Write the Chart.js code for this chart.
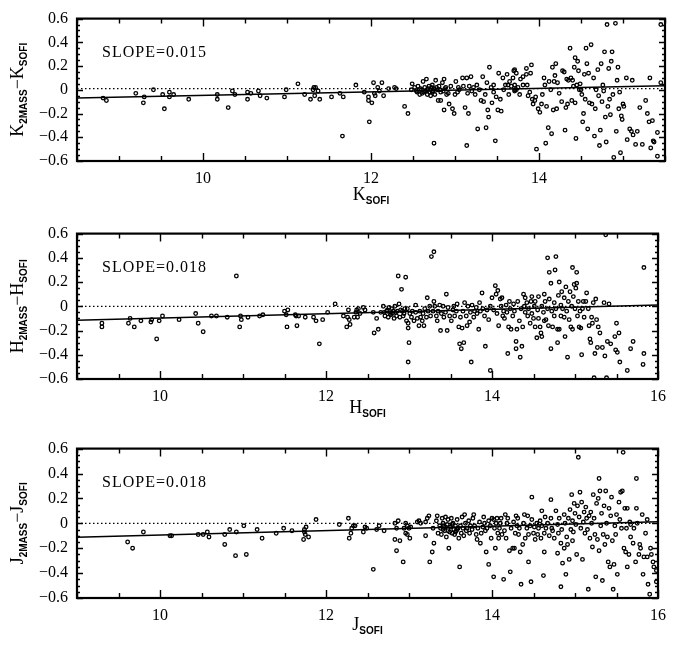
<!DOCTYPE html>
<html>
<head>
<meta charset="utf-8">
<script src="https://cdn.jsdelivr.net/npm/chart.js@4.4.1/dist/chart.umd.min.js"></script>
<style>
  body { margin: 0; background: #fff; }
  canvas { display: block; }
</style>
</head>
<body>
<canvas id="kChart" width="674" height="215"></canvas>
<canvas id="hChart" width="674" height="215"></canvas>
<canvas id="jChart" width="674" height="216"></canvas>
<script>
// ---- data ----
var bands = ["K", "H", "J"];
var slopes = [0.015, 0.018, 0.018];
var xRanges = [[8.5, 15.5], [9, 16], [9, 16]];
var xTicksK = [10, 12, 14];
var xTicksHJ = [10, 12, 14, 16];
var yTicks = [-0.6, -0.4, -0.2, 0, 0.2, 0.4, 0.6];

// fitted lines (two ends each)
var fitXK = [8.5, 15.5];
var fitYK = [-0.07, 0.035];
var fitXH = [9, 16];
var fitYH = [-0.115, 0.011];
var fitXJ = [9, 16];
var fitYJ = [-0.113, 0.013];

// dotted reference line
var zeroLevels = [0.01, 0, 0];

// K_SOFI vs K_2MASS - K_SOFI
var kPoints = [
  [8.81,-0.07],[8.85,-0.09],[9.20,-0.03],[9.29,-0.11],[9.30,-0.06],[9.41,0.00],[9.52,-0.04],[9.54,-0.16],
  [9.60,-0.02],[9.60,-0.06],[9.65,-0.04],[9.83,-0.08],[10.17,-0.04],[10.17,-0.08],[10.30,-0.15],[10.35,-0.01],
  [10.38,-0.04],[10.53,-0.02],[10.53,-0.08],[10.57,-0.03],[10.66,-0.01],[10.68,-0.05],[10.76,-0.07],[10.97,-0.06],
  [10.99,0.00],[11.13,0.05],[11.21,-0.04],[11.28,-0.08],[11.31,0.00],[11.32,0.02],[11.33,-0.05],[11.34,0.02],
  [11.37,-0.01],[11.39,-0.08],[11.53,-0.06],[11.63,-0.03],[11.67,-0.06],[11.66,-0.39],[11.82,0.04],
  [11.92,-0.02],[11.98,-0.27],[11.97,-0.06],[11.97,-0.09],[12.01,-0.11],[12.03,0.06],[12.04,-0.03],[12.05,-0.05],
  [12.08,0.02],[12.10,-0.01],[12.13,0.06],[12.15,-0.05],[12.21,0.01],[12.28,0.02],[12.30,0.01],[12.40,-0.14],
  [12.44,-0.20],[12.48,0.00],[12.49,0.05],[12.54,-0.01],[12.56,0.03],[12.58,-0.04],[12.60,0.00],[12.62,0.07],
  [12.63,-0.02],[12.64,0.02],[12.66,0.09],[12.67,0.00],[12.67,-0.04],[12.69,0.03],[12.71,0.00],[12.71,-0.05],
  [12.73,-0.02],[12.73,0.04],[12.75,0.01],[12.75,-0.45],[12.76,-0.04],[12.77,0.08],[12.79,0.00],[12.80,-0.09],
  [12.81,0.03],[12.83,-0.09],[12.83,-0.02],[12.85,0.06],[12.87,-0.17],[12.87,0.09],[12.88,0.01],[12.90,-0.04],
  [12.92,-0.03],[12.93,-0.12],[12.95,0.03],[12.97,-0.16],[12.99,-0.20],[13.00,-0.04],[13.01,0.07],[13.03,-0.02],
  [13.04,0.02],[13.05,0.00],[13.09,0.10],[13.10,0.03],[13.12,-0.15],[13.14,-0.47],[13.14,0.10],[13.15,-0.03],
  [13.16,-0.20],[13.17,0.03],[13.19,0.11],[13.20,-0.01],[13.22,0.02],[13.24,-0.04],[13.26,0.04],[13.27,-0.33],
  [13.29,0.00],[13.31,-0.09],[13.33,0.11],[13.34,-0.10],[13.36,-0.04],[13.37,-0.32],[13.38,0.06],[13.39,-0.17],
  [13.40,-0.23],[13.41,0.19],[13.43,0.02],[13.44,-0.11],[13.46,-0.02],[13.46,0.04],[13.48,-0.43],[13.49,-0.06],
  [13.51,-0.17],[13.52,0.14],[13.54,-0.08],[13.55,-0.18],[13.57,0.10],[13.58,0.00],[13.60,0.04],[13.62,0.13],
  [13.63,0.04],[13.64,-0.04],[13.65,0.07],[13.67,0.03],[13.69,0.10],[13.70,0.16],[13.71,0.00],
  [12.52,0.02],[12.55,-0.02],[12.59,0.01],[12.61,-0.03],[12.65,-0.01],[12.68,0.01],[12.70,-0.02],[12.72,0.02],
  [12.74,-0.01],[12.78,0.02],[12.82,0.00],[12.86,-0.01],[12.89,0.02],
  [13.71,0.17],[13.73,0.14],[13.71,0.04],[13.71,-0.01],[13.73,0.00],[13.75,0.02],[13.77,-0.04],[13.78,0.09],
  [13.81,0.04],[13.81,0.11],[13.85,0.18],[13.85,0.13],[13.86,0.04],[13.87,-0.05],[13.89,-0.02],[13.90,0.14],
  [13.91,0.21],[13.92,-0.08],[13.93,-0.12],[13.95,-0.09],[13.96,-0.06],[13.97,-0.50],[13.99,-0.16],[14.01,-0.19],
  [14.03,-0.12],[14.04,-0.04],[14.06,0.10],[14.07,0.04],[14.08,-0.45],[14.09,-0.14],[14.11,-0.32],[14.12,0.07],
  [14.14,0.00],[14.15,-0.37],[14.16,0.19],[14.17,-0.17],[14.18,0.07],[14.19,0.12],[14.20,0.22],[14.21,-0.16],
  [14.22,0.06],[14.24,-0.03],[14.27,-0.10],[14.28,0.16],[14.30,0.15],[14.31,-0.34],[14.32,-0.15],[14.33,0.09],
  [14.34,-0.12],[14.35,0.08],[14.37,0.35],[14.38,0.10],[14.39,-0.09],[14.40,0.08],[14.41,0.03],[14.42,0.19],
  [14.43,0.27],[14.43,-0.11],[14.44,-0.41],[14.45,0.04],[14.46,0.24],[14.47,0.16],[14.48,0.00],[14.49,0.05],
  [14.50,0.00],[14.51,-0.04],[14.52,-0.27],[14.53,-0.20],[14.54,0.13],[14.55,-0.08],[14.56,0.35],[14.57,0.22],
  [14.58,-0.33],[14.59,0.14],[14.60,-0.11],[14.62,0.38],[14.63,-0.12],[14.65,0.10],[14.66,-0.39],[14.67,-0.16],
  [14.68,0.00],[14.70,0.17],[14.71,-0.05],[14.72,-0.47],[14.73,-0.34],[14.74,0.22],[14.75,-0.10],[14.76,0.04],
  [14.77,-0.01],[14.78,0.32],[14.79,-0.23],[14.80,-0.44],[14.81,0.55],[14.82,-0.14],[14.83,0.18],[14.84,-0.08],
  [14.85,-0.21],[14.86,0.24],[14.87,0.32],[14.88,-0.04],[14.89,-0.57],[14.91,0.56],[14.92,-0.35],[14.93,0.08],
  [14.94,0.19],[14.95,-0.16],[14.96,-0.02],[14.97,-0.53],[14.98,-0.22],[14.99,-0.25],[15.00,-0.12],[15.01,-0.14],
  [15.04,0.10],[15.05,-0.42],[15.08,-0.33],[15.10,-0.35],[15.11,0.08],[15.12,-0.38],[15.15,-0.46],[15.17,-0.35],
  [15.20,-0.15],[15.23,-0.46],[15.27,-0.09],[15.29,-0.20],[15.31,-0.27],[15.32,0.10],[15.33,-0.49],[15.35,-0.26],
  [15.36,-0.43],[15.37,-0.44],[15.41,-0.36],[15.41,-0.56],[15.45,0.55],[15.45,0.06]
];

// H_SOFI vs H_2MASS - H_SOFI
var hPoints = [
  [9.30,-0.14],[9.30,-0.17],[9.62,-0.14],[9.64,-0.10],[9.69,-0.17],[9.77,-0.12],[9.89,-0.13],[9.90,-0.11],
  [9.96,-0.27],[9.99,-0.12],[10.03,-0.08],[10.23,-0.11],[10.43,-0.06],[10.46,-0.14],[10.52,-0.21],[10.62,-0.08],
  [10.68,-0.08],[10.81,-0.09],[10.92,0.25],[10.96,-0.17],[10.97,-0.08],[10.98,-0.11],[11.06,-0.09],[11.20,-0.08],
  [11.24,-0.07],[11.50,-0.04],[11.52,-0.07],[11.53,-0.17],[11.54,-0.03],[11.63,-0.07],[11.64,-0.08],[11.65,-0.16],
  [11.67,-0.08],[11.75,-0.09],[11.85,-0.09],[11.88,-0.12],[11.92,-0.31],[11.96,-0.11],[12.02,-0.05],[12.11,0.02],
  [12.21,-0.08],[12.26,-0.09],[12.27,-0.03],[12.25,-0.17],[12.28,-0.11],[12.29,-0.15],[12.34,-0.09],[12.36,-0.05],
  [12.37,-0.03],[12.38,-0.09],[12.39,-0.02],[12.41,-0.06],[12.45,-0.01],[12.47,-0.03],[12.57,-0.05],[12.58,-0.22],
  [12.61,-0.10],[12.63,-0.19],[12.66,-0.05],[12.69,0.00],[12.71,-0.08],[12.73,-0.04],[12.75,-0.09],[12.76,-0.01],
  [12.77,-0.06],[12.79,-0.02],[12.80,-0.06],[12.81,-0.04],[12.82,-0.10],[12.83,0.00],[12.85,-0.08],[12.86,-0.04],
  [12.87,0.25],[12.88,0.02],[12.89,-0.09],[12.91,0.14],[12.92,-0.04],[12.93,-0.08],[12.95,-0.02],[12.96,0.24],
  [12.97,-0.12],[12.98,-0.02],[12.99,-0.14],[12.99,-0.18],[13.00,-0.30],[12.99,-0.46],[13.01,-0.06],[13.03,-0.09],
  [13.04,-0.04],[13.06,-0.12],[13.08,-0.05],[13.08,0.01],[13.10,-0.10],[13.12,-0.16],[13.13,-0.04],[13.14,-0.09],
  [13.16,-0.12],[13.17,-0.06],[13.18,-0.16],[13.19,-0.02],[13.21,-0.09],[13.22,0.07],[13.23,-0.04],[13.25,0.00],
  [13.26,-0.08],[13.27,0.41],[13.29,-0.04],[13.30,0.45],[13.30,0.04],[13.31,0.00],[13.33,-0.08],[13.34,-0.12],
  [13.35,-0.04],[13.37,0.01],[13.38,-0.20],[13.39,-0.06],[13.41,0.00],[13.42,-0.09],[13.44,-0.05],[13.45,0.10],
  [13.46,-0.20],[13.47,-0.01],[13.49,-0.08],[13.51,-0.12],[13.53,-0.03],[13.54,0.00],[13.55,-0.08],[13.57,-0.04],
  [13.58,0.02],[13.60,-0.17],[13.61,-0.31],[13.62,-0.09],[13.63,-0.35],[13.64,-0.18],[13.65,-0.04],[13.66,-0.30],
  [13.67,0.03],[13.69,-0.08],[13.70,-0.16],[13.71,0.00],[13.73,-0.13],[13.74,-0.05],[13.75,-0.46],[13.76,0.01],
  [13.78,-0.09],[13.79,-0.04],[13.81,-0.01],[13.82,-0.06],[13.84,-0.19],[13.85,0.03],[13.86,-0.04],[13.88,0.11],
  [13.89,-0.02],[13.91,-0.08],[13.92,-0.33],[13.94,-0.03],[13.96,-0.11],[13.98,-0.53],[13.98,0.00],[14.00,0.07],
  [12.70,-0.05],[12.74,-0.03],[12.78,-0.07],[12.84,-0.05],[12.90,-0.03],[12.94,-0.06],
  [14.02,-0.03],[14.04,0.17],[14.05,0.10],[14.06,-0.06],[14.07,0.13],[14.08,-0.16],[14.10,0.06],[14.11,0.00],
  [14.12,0.07],[14.13,-0.08],[14.14,-0.04],[14.15,-0.10],[14.17,0.01],[14.18,-0.05],[14.19,-0.39],[14.20,-0.17],
  [14.21,0.04],[14.22,-0.02],[14.23,-0.19],[14.25,-0.08],[14.26,0.02],[14.27,-0.04],[14.29,-0.29],[14.29,-0.35],
  [14.30,-0.19],[14.31,0.04],[14.33,-0.12],[14.34,-0.42],[14.35,-0.02],[14.36,-0.33],[14.37,-0.17],[14.38,0.10],
  [14.39,0.00],[14.40,-0.05],[14.40,0.07],[14.42,0.03],[14.43,-0.08],[14.44,-0.02],[14.46,-0.14],[14.47,0.04],
  [14.48,-0.06],[14.48,0.08],[14.50,-0.10],[14.51,0.00],[14.52,-0.17],[14.52,0.04],[14.54,-0.26],[14.55,-0.03],
  [14.56,0.08],[14.56,-0.10],[14.58,-0.17],[14.59,-0.22],[14.60,-0.25],[14.60,0.00],[14.62,-0.05],[14.63,0.10],
  [14.63,-0.12],[14.64,0.04],[14.65,-0.11],[14.67,-0.02],[14.67,0.40],[14.68,-0.16],[14.69,0.28],[14.69,0.06],
  [14.71,-0.35],[14.71,0.19],[14.72,-0.04],[14.73,-0.17],[14.75,0.03],[14.75,-0.08],[14.76,0.30],[14.77,0.41],
  [14.77,-0.02],[14.79,-0.19],[14.79,-0.30],[14.80,0.09],[14.81,0.20],[14.81,-0.19],[14.83,0.01],[14.83,-0.08],
  [14.84,0.12],[14.85,-0.02],[14.87,-0.09],[14.87,0.07],[14.88,-0.25],[14.89,0.16],[14.90,-0.04],[14.91,-0.42],
  [14.92,0.04],[14.93,-0.11],[14.94,0.12],[14.95,-0.17],[14.96,0.00],[14.97,0.32],[14.97,-0.19],[14.98,0.08],
  [14.99,0.18],[15.00,-0.02],[15.01,0.15],[15.02,0.19],[15.02,0.28],[15.03,-0.08],[15.04,0.04],[15.05,-0.17],
  [15.06,-0.04],[15.07,-0.18],[15.08,-0.40],[15.09,-0.02],[15.10,0.04],[15.11,-0.09],[15.13,0.04],[15.14,0.11],
  [15.16,-0.02],[15.17,-0.16],[15.18,-0.27],[15.19,-0.30],[15.20,-0.09],[15.21,-0.14],[15.22,0.03],[15.23,-0.59],
  [15.24,-0.39],[15.25,0.06],[15.26,-0.11],[15.27,-0.34],[15.28,-0.17],[15.30,-0.22],[15.33,-0.34],[15.35,0.03],
  [15.36,-0.41],[15.37,0.59],[15.38,-0.59],[15.39,-0.29],[15.41,0.02],[15.43,-0.31],[15.48,-0.25],[15.49,-0.36],
  [15.50,-0.14],[15.51,-0.38],[15.53,-0.22],[15.54,-0.46],[15.63,-0.53],[15.67,-0.35],[15.70,-0.29],[15.82,-0.48],
  [15.83,-0.39],[15.83,0.32]
];

// J_SOFI vs J_2MASS - J_SOFI
var jPoints = [
  [9.61,-0.15],[9.67,-0.20],[9.80,-0.07],[10.12,-0.10],[10.14,-0.10],[10.46,-0.09],[10.52,-0.09],[10.57,-0.07],
  [10.59,-0.11],[10.78,-0.09],[10.78,-0.17],[10.84,-0.05],[10.91,-0.26],[10.92,-0.07],[11.01,-0.02],[11.04,-0.25],
  [11.17,-0.05],[11.23,-0.12],[11.40,-0.08],[11.49,-0.04],[11.59,-0.06],[11.73,-0.13],[11.74,-0.07],[11.74,-0.05],
  [11.75,-0.09],[11.76,-0.03],[11.79,-0.11],[11.88,0.03],
  [12.16,-0.01],[12.27,0.04],[12.28,-0.12],[12.30,-0.08],[12.31,-0.04],[12.33,-0.02],[12.35,-0.02],[12.45,-0.07],
  [12.47,-0.03],[12.49,-0.04],[12.57,-0.37],[12.61,-0.05],[12.64,-0.02],[12.70,-0.06],[12.83,0.00],[12.83,-0.13],
  [12.85,-0.22],[12.85,-0.04],[12.87,0.02],[12.89,-0.14],[12.93,-0.31],[12.94,-0.04],[12.96,0.00],[12.96,-0.08],
  [12.98,-0.02],[12.98,-0.09],[13.00,-0.04],[13.01,-0.12],[13.02,-0.03],[13.10,0.01],[13.12,0.02],[13.14,0.00],
  [13.20,0.01],[13.20,-0.10],[13.22,0.04],[13.24,0.06],[13.25,-0.31],[13.28,-0.23],[13.29,-0.04],[13.30,-0.16],
  [13.33,0.02],[13.34,0.06],[13.35,-0.08],[13.37,-0.02],[13.38,-0.04],[13.39,-0.09],[13.40,0.04],[13.41,0.00],
  [13.42,-0.02],[13.43,-0.06],[13.44,0.05],[13.45,-0.11],[13.46,-0.01],[13.47,0.03],[13.48,-0.20],[13.49,-0.07],
  [13.50,-0.03],[13.51,0.04],[13.52,-0.08],[13.53,0.00],[13.54,-0.05],[13.55,-0.09],[13.56,-0.02],[13.57,-0.06],
  [13.58,0.03],[13.59,-0.04],[13.60,-0.12],[13.61,-0.35],[13.62,-0.02],[13.63,-0.08],[13.64,0.05],[13.65,-0.04],
  [13.66,-0.10],[13.67,0.07],[13.68,0.00],[13.69,-0.06],[13.70,-0.04],[13.72,0.02],[13.73,-0.08],[13.74,-0.02],
  [13.76,-0.05],[13.77,0.04],[13.78,0.07],[13.79,-0.02],[13.81,-0.09],[13.82,-0.13],[13.83,-0.04],[13.85,0.01],
  [13.86,-0.16],[13.87,-0.08],[13.89,-0.03],[13.90,0.05],[13.91,0.00],[13.92,-0.06],[13.93,-0.23],[13.94,-0.04],
  [13.96,-0.33],[13.96,0.02],[13.98,-0.02],[13.99,-0.12],[14.00,0.04],[14.02,-0.43],
  [13.41,-0.05],[13.44,-0.03],[13.47,-0.06],[13.52,-0.01],[13.56,-0.07],[13.58,-0.05],
  [14.02,0.03],[14.03,-0.04],[14.04,-0.20],[14.05,0.00],[14.06,0.04],[14.07,-0.08],[14.08,-0.12],[14.09,-0.04],
  [14.10,0.00],[14.11,0.04],[14.12,-0.09],[14.14,-0.45],[14.15,-0.06],[14.16,0.07],[14.17,-0.12],[14.18,0.00],
  [14.19,0.04],[14.21,-0.22],[14.22,-0.39],[14.23,-0.04],[14.25,-0.20],[14.26,0.01],[14.27,-0.20],[14.28,-0.08],
  [14.29,0.06],[14.30,-0.02],[14.31,0.04],[14.32,-0.09],[14.33,-0.04],[14.34,-0.23],[14.35,-0.49],[14.37,-0.17],
  [14.38,0.00],[14.39,0.07],[14.40,-0.12],[14.42,-0.04],[14.43,0.06],[14.44,-0.09],[14.44,-0.31],[14.46,-0.02],
  [14.47,-0.47],[14.48,0.21],[14.48,0.03],[14.50,-0.08],[14.51,-0.03],[14.52,-0.13],[14.54,0.00],[14.55,-0.09],
  [14.56,-0.04],[14.58,0.02],[14.59,-0.12],[14.60,0.10],[14.60,-0.02],[14.62,-0.42],[14.63,-0.08],[14.63,-0.23],
  [14.64,0.05],[14.65,-0.04],[14.67,0.00],[14.69,-0.10],[14.71,0.19],[14.71,0.04],[14.72,-0.04],[14.73,-0.06],
  [14.75,-0.12],[14.77,0.10],[14.79,-0.24],[14.79,-0.01],[14.80,-0.08],[14.81,0.04],[14.83,-0.51],[14.83,-0.16],
  [14.84,-0.05],[14.85,-0.32],[14.87,0.07],[14.87,-0.20],[14.88,0.00],[14.89,-0.41],[14.90,-0.11],[14.91,-0.17],
  [14.92,0.04],[14.93,-0.29],[14.94,0.11],[14.95,-0.05],[14.96,0.23],[14.97,-0.14],[14.97,0.02],[14.98,-0.07],
  [14.99,0.16],[15.00,0.08],[15.01,-0.01],[15.02,-0.25],[15.03,0.14],[15.04,0.53],[15.05,0.05],[15.06,0.25],
  [15.07,-0.04],[15.08,0.17],[15.09,-0.29],[15.10,0.01],[15.11,0.09],[15.12,-0.08],[15.13,0.13],[15.14,0.04],
  [15.15,-0.05],[15.16,-0.53],[15.17,0.06],[15.18,-0.12],[15.19,0.09],[15.20,0.00],[15.21,-0.19],[15.22,0.23],
  [15.23,0.04],[15.24,-0.09],[15.25,-0.43],[15.26,0.16],[15.27,-0.13],[15.28,0.20],[15.29,0.36],[15.29,-0.22],
  [15.30,0.26],[15.31,-0.02],[15.32,0.08],[15.33,-0.46],[15.34,-0.09],[15.35,0.14],[15.36,-0.17],[15.37,0.26],
  [15.38,0.00],[15.39,-0.11],[15.40,-0.31],[15.41,0.12],[15.42,-0.35],[15.43,0.06],[15.44,0.21],[15.45,-0.14],
  [15.46,-0.53],[15.47,-0.33],[15.48,-0.02],[15.49,-0.09],[15.50,0.07],[15.51,-0.41],[15.53,0.17],[15.54,0.03],
  [15.55,0.25],[15.56,-0.04],[15.57,0.26],[15.58,0.57],[15.59,-0.20],[15.60,0.12],[15.61,-0.23],[15.62,-0.04],
  [15.63,-0.35],[15.63,0.12],[15.65,-0.25],[15.66,0.01],[15.67,-0.11],[15.67,-0.01],[15.70,-0.16],[15.71,-0.04],
  [15.73,-0.31],[15.74,0.36],[15.74,0.12],[15.75,0.00],[15.77,-0.25],[15.78,-0.17],[15.79,-0.20],[15.81,0.07],
  [15.82,-0.41],[15.83,-0.27],[15.85,-0.08],[15.87,-0.27],[15.87,0.03],[15.88,-0.49],[15.90,-0.57],[15.91,-0.20],
  [15.92,-0.25],[15.94,-0.31],[15.95,-0.35],[15.98,-0.47],[15.98,-0.38]
];

// ---- drawing ----
var serif = "Liberation Serif";
var mainFont = '18px "Liberation Serif"';
var subFont = 'bold 10px "Liberation Sans"';
var xMinorStep = 0.5, xMajorStep = 2;
var yMinorStep = 0.05, yMajorStep = 0.2;

function toXY(pairs) {
  return pairs.map(function (p) { return { x: p[0], y: p[1] }; });
}

function pairUp(xs, ys) {
  return xs.map(function (x, i) { return { x: x, y: ys[i] }; });
}

function partsWidth(ctx, parts) {
  var w = 0;
  parts.forEach(function (p) {
    ctx.font = p.sub ? subFont : mainFont;
    w += ctx.measureText(p.t).width;
  });
  return w;
}

function drawParts(ctx, x, y, parts) {
  parts.forEach(function (p) {
    ctx.font = p.sub ? subFont : mainFont;
    ctx.fillText(p.t, x, p.sub ? y + 4 : y);
    x += ctx.measureText(p.t).width;
  });
}

// frame, inward ticks on all sides, axis titles and the slope note
var decorPlugin = {
  id: "decor",
  afterDraw: function (chart) {
    var ctx = chart.ctx;
    var a = chart.chartArea;
    var xs = chart.scales.x;
    var ys = chart.scales.y;
    var o = chart.options.plugins.decor;
    var i, v, p, len;

    ctx.save();
    ctx.strokeStyle = "#000";
    ctx.fillStyle = "#000";

    ctx.lineWidth = 1.4;
    ctx.beginPath();
    for (i = Math.ceil(xs.min / xMinorStep - 1e-6); i <= Math.floor(xs.max / xMinorStep + 1e-6); i++) {
      v = i * xMinorStep;
      len = (i % (xMajorStep / xMinorStep) === 0) ? 8 : 5;
      p = Math.round(xs.getPixelForValue(v)) + 0.5;
      ctx.moveTo(p, a.bottom); ctx.lineTo(p, a.bottom - len);
      ctx.moveTo(p, a.top); ctx.lineTo(p, a.top + len);
    }
    for (i = Math.ceil(ys.min / yMinorStep - 1e-6); i <= Math.floor(ys.max / yMinorStep + 1e-6); i++) {
      v = i * yMinorStep;
      len = (i % Math.round(yMajorStep / yMinorStep) === 0) ? 6 : 3;
      p = Math.round(ys.getPixelForValue(v)) + 0.5;
      ctx.moveTo(a.left, p); ctx.lineTo(a.left + len, p);
      ctx.moveTo(a.right, p); ctx.lineTo(a.right - len, p);
    }
    ctx.stroke();

    ctx.lineWidth = 2.2;
    ctx.strokeRect(a.left, a.top, a.right - a.left, a.bottom - a.top);

    // x title
    var xParts = [{ t: o.band }, { t: "SOFI", sub: true }];
    var w = partsWidth(ctx, xParts);
    ctx.textBaseline = "alphabetic";
    ctx.textAlign = "left";
    drawParts(ctx, (a.left + a.right) / 2 - w / 2, o.xTitleY, xParts);

    // y title, rotated
    var yParts = [{ t: o.band }, { t: "2MASS", sub: true }, { t: "\u2212" }, { t: o.band }, { t: "SOFI", sub: true }];
    w = partsWidth(ctx, yParts);
    ctx.save();
    ctx.translate(23, (a.top + a.bottom) / 2);
    ctx.rotate(-Math.PI / 2);
    drawParts(ctx, -w / 2, 0, yParts);
    ctx.restore();

    // slope note
    ctx.font = '16px "Liberation Serif"';
    ctx.letterSpacing = "1px";
    ctx.fillText("SLOPE=" + o.slope.toFixed(3), a.left + 25, a.top + 38);
    ctx.restore();
  }
};

function makePanel(canvasId, idx, points, fitX, fitY, xTicks, padTop, xTitleY) {
  var canvas = document.getElementById(canvasId);
  var range = xRanges[idx];
  var H = canvas.height;

  return new Chart(canvas.getContext("2d"), {
    type: "scatter",
    data: {
      datasets: [
        {
          data: toXY(points),
          pointRadius: 1.8,
          pointBorderWidth: 1.3,
          borderColor: "#000",
          backgroundColor: "rgba(255,255,255,0)",
          pointHoverRadius: 1.8,
        },
        {
          type: "line",
          data: pairUp(fitX, fitY),
          borderColor: "#000",
          borderWidth: 1.5,
          pointRadius: 0,
          fill: false,
        },
        {
          type: "line",
          data: pairUp(range, [zeroLevels[idx], zeroLevels[idx]]),
          borderColor: "#000",
          borderWidth: 1.3,
          borderDash: [1.5, 2.5],
          pointRadius: 0,
          fill: false,
        },
      ],
    },
    options: {
      responsive: false,
      animation: false,
      events: [],
      layout: { padding: { left: 0, right: 9, top: padTop, bottom: 0 } },
      plugins: {
        legend: { display: false },
        tooltip: { enabled: false },
        decor: { band: bands[idx], slope: slopes[idx], xTitleY: xTitleY },
      },
      scales: {
        x: {
          type: "linear",
          min: range[0],
          max: range[1],
          grid: { display: false, drawTicks: false },
          border: { display: false },
          afterBuildTicks: function (s) {
            s.ticks = xTicks.map(function (v) { return { value: v }; });
          },
          afterFit: function (s) {
            s.height = H - padTop - 151;
          },
          ticks: {
            color: "#000",
            font: { family: serif, size: 16 },
            padding: 8,
            maxRotation: 0,
            autoSkip: false,
          },
        },
        y: {
          type: "linear",
          min: -0.6,
          max: 0.6,
          grid: { display: false, drawTicks: false },
          border: { display: false },
          afterBuildTicks: function (s) {
            s.ticks = yTicks.map(function (v) { return { value: v }; });
          },
          afterFit: function (s) {
            s.width = 77;
          },
          ticks: {
            color: "#000",
            font: { family: serif, size: 16 },
            padding: 9,
            autoSkip: false,
            callback: function (value) {
              if (Math.abs(value) < 1e-9) return "0";
              return (value < 0 ? "\u2212" : "") + Math.abs(value).toFixed(1);
            },
          },
        },
      },
    },
    plugins: [decorPlugin],
  });
}

makePanel("kChart", 0, kPoints, fitXK, fitYK, xTicksK, 10, 200);
makePanel("hChart", 1, hPoints, fitXH, fitYH, xTicksHJ, 13, 198);
makePanel("jChart", 2, jPoints, fitXJ, fitYJ, xTicksHJ, 17, 200);
</script>
</body>
</html>
